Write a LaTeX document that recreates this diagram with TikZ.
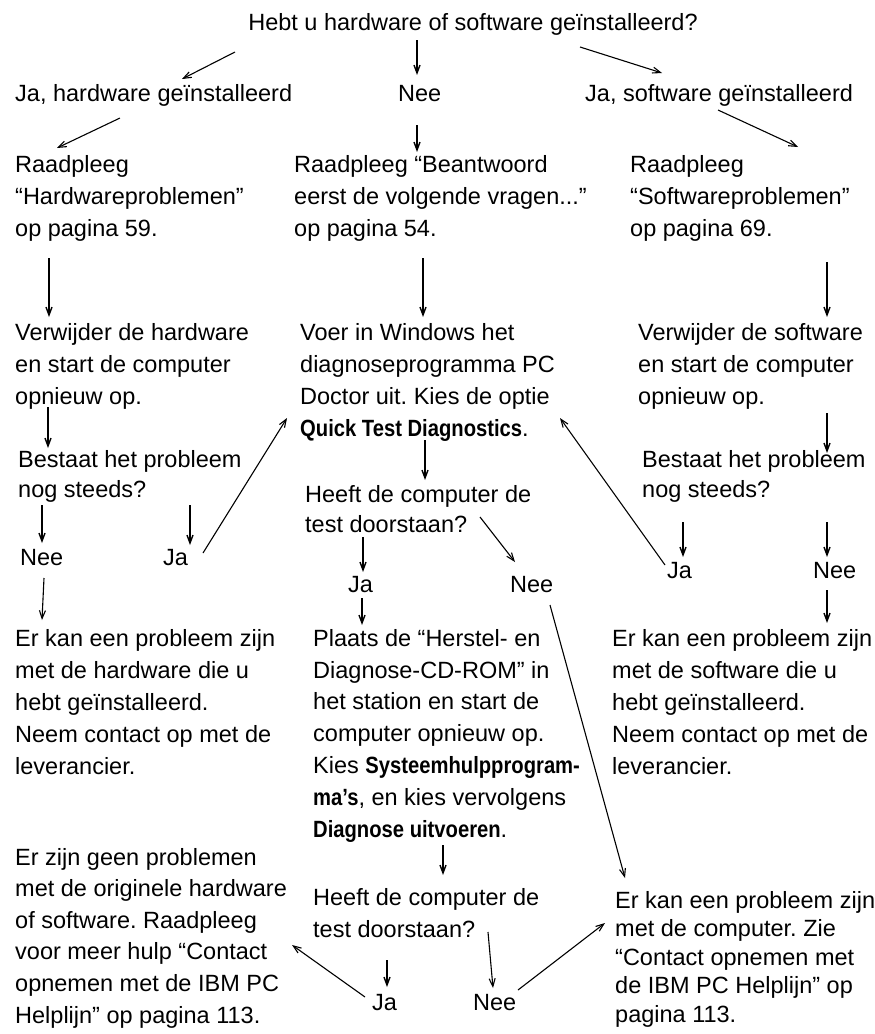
\documentclass[tikz,border=0pt]{standalone}
\usepackage{fontspec}
\usepackage{graphicx}
\setmainfont{Liberation Sans}
\usetikzlibrary{arrows.meta}
\newcommand\bcond[1]{\scalebox{0.86}[1]{\bfseries #1}}
\frenchspacing
\begin{document}
\begin{tikzpicture}[x=1pt,y=1pt,
  txt/.style={anchor=base west, align=left, inner sep=0pt, font=\fontsize{23.5}{32}\selectfont},
  tight/.style={font=\fontsize{23.5}{30}\selectfont},
  arr/.style={-{Straight Barb[length=8pt,width=6pt]}, line width=1.1pt},
  varr/.style={arr, line width=1.4pt}]
\useasboundingbox[fill=white] (0,0) rectangle (875,-1034);
% text nodes (base anchor = baseline of the last line)
\node[txt, anchor=base] (q1) at (473,-30) {Hebt u hardware of software geïnstalleerd?};
\node[txt] (jahw) at (15,-101) {Ja, hardware geïnstalleerd};
\node[txt] (nee0) at (398,-101) {Nee};
\node[txt] (jasw) at (585,-101) {Ja, software geïnstalleerd};
\node[txt] (rhw) at (15,-236) {Raadpleeg\\“Hardwareproblemen”\\op pagina 59.};
\node[txt] (rbe) at (294,-236) {Raadpleeg “Beantwoord\\eerst de volgende vragen...”\\op pagina 54.};
\node[txt] (rsw) at (630,-236) {Raadpleeg\\“Softwareproblemen”\\op pagina 69.};
\node[txt] (vhw) at (15,-404) {Verwijder de hardware\\en start de computer\\opnieuw op.};
\node[txt] (voer) at (300,-436) {Voer in Windows het\\diagnoseprogramma PC\\Doctor uit. Kies de optie\\\bcond{Quick Test Diagnostics}.};
\node[txt] (vsw) at (638,-404) {Verwijder de software\\en start de computer\\opnieuw op.};
\node[txt, tight] (bhw) at (18,-497) {Bestaat het probleem\\nog steeds?};
\node[txt] (neeL) at (20,-565) {Nee};
\node[txt] (jaL) at (163,-565) {Ja};
\node[txt, tight] (heeft1) at (305,-532) {Heeft de computer de\\test doorstaan?};
\node[txt] (jaM) at (348,-592) {Ja};
\node[txt] (neeM) at (510,-592) {Nee};
\node[txt, tight] (bsw) at (642,-497) {Bestaat het probleem\\nog steeds?};
\node[txt] (jaR) at (667,-578) {Ja};
\node[txt] (neeR) at (813,-578) {Nee};
\node[txt] (erhw) at (15,-774) {Er kan een probleem zijn\\met de hardware die u\\hebt geïnstalleerd.\\Neem contact op met de\\leverancier.};
\node[txt, font=\fontsize{23.5}{31.8}\selectfont] (plaats) at (313,-837) {Plaats de “Herstel- en\\Diagnose-CD-ROM” in\\het station en start de\\computer opnieuw op.\\Kies \bcond{Systeemhulpprogram-}\\\bcond{ma\symbol{39}s}, en kies vervolgens\\\bcond{Diagnose uitvoeren}.};
\node[txt] (ersw) at (612,-774) {Er kan een probleem zijn\\met de software die u\\hebt geïnstalleerd.\\Neem contact op met de\\leverancier.};
\node[txt] (heeft2) at (313,-937) {Heeft de computer de\\test doorstaan?};
\node[txt, font=\fontsize{23.5}{31.6}\selectfont] (geen) at (15,-1023) {Er zijn geen problemen\\met de originele hardware\\of software. Raadpleeg\\voor meer hulp “Contact\\opnemen met de IBM PC\\Helplijn” op pagina 113.};
\node[txt] (jaB) at (372,-1010) {Ja};
\node[txt] (neeB) at (473,-1010) {Nee};
\node[txt, font=\fontsize{23.5}{28.5}\selectfont] (ercomp) at (615,-1022) {Er kan een probleem zijn\\met de computer. Zie\\“Contact opnemen met\\de IBM PC Helplijn” op\\pagina 113.};
% connector end points
\coordinate (a1s) at (235,-52);  \coordinate (a1e) at (182,-79);
\coordinate (a2s) at (417,-40);  \coordinate (a2e) at (417,-75);
\coordinate (a3s) at (580,-47);  \coordinate (a3e) at (662,-73);
\coordinate (a4s) at (120,-118); \coordinate (a4e) at (57,-148);
\coordinate (a5s) at (417,-125); \coordinate (a5e) at (417,-152);
\coordinate (a6s) at (718,-110); \coordinate (a6e) at (798,-147);
\coordinate (a7s) at (49,-258);  \coordinate (a7e) at (49,-317);
\coordinate (a8s) at (423,-258); \coordinate (a8e) at (423,-317);
\coordinate (a9s) at (827,-262); \coordinate (a9e) at (827,-317);
\coordinate (a10s) at (48,-407); \coordinate (a10e) at (48,-448);
\coordinate (a11s) at (425,-440); \coordinate (a11e) at (425,-480);
\coordinate (a12s) at (827,-413); \coordinate (a12e) at (827,-453);
\coordinate (a13s) at (42,-505); \coordinate (a13e) at (42,-543);
\coordinate (a14s) at (190,-505); \coordinate (a14e) at (190,-545);
\coordinate (a15s) at (203,-553); \coordinate (a15e) at (287,-418);
\coordinate (a16s) at (44,-578); \coordinate (a16e) at (42,-620);
\coordinate (a17s) at (363,-537); \coordinate (a17e) at (363,-572);
\coordinate (a18s) at (480,-517); \coordinate (a18e) at (515,-562);
\coordinate (a19s) at (362,-598); \coordinate (a19e) at (362,-625);
\coordinate (a20s) at (550,-605); \coordinate (a20e) at (625,-878);
\coordinate (a21s) at (683,-522); \coordinate (a21e) at (683,-557);
\coordinate (a22s) at (665,-565); \coordinate (a22e) at (560,-418);
\coordinate (a23s) at (827,-522); \coordinate (a23e) at (827,-557);
\coordinate (a24s) at (827,-590); \coordinate (a24e) at (827,-623);
\coordinate (a25s) at (443,-845); \coordinate (a25e) at (443,-875);
\coordinate (a26s) at (387,-960); \coordinate (a26e) at (387,-987);
\coordinate (a27s) at (365,-997); \coordinate (a27e) at (292,-945);
\coordinate (a28s) at (488,-932); \coordinate (a28e) at (493,-988);
\coordinate (a29s) at (518,-990); \coordinate (a29e) at (605,-923);
% connectors
\foreach \i in {1,3,4,6,15,16,18,20,22,27,28,29} \draw[arr] (a\i s) -- (a\i e);
\foreach \i in {2,5,7,8,9,10,11,12,13,14,17,19,21,23,24,25,26} \draw[varr] (a\i s) -- (a\i e);
\end{tikzpicture}
\end{document}
